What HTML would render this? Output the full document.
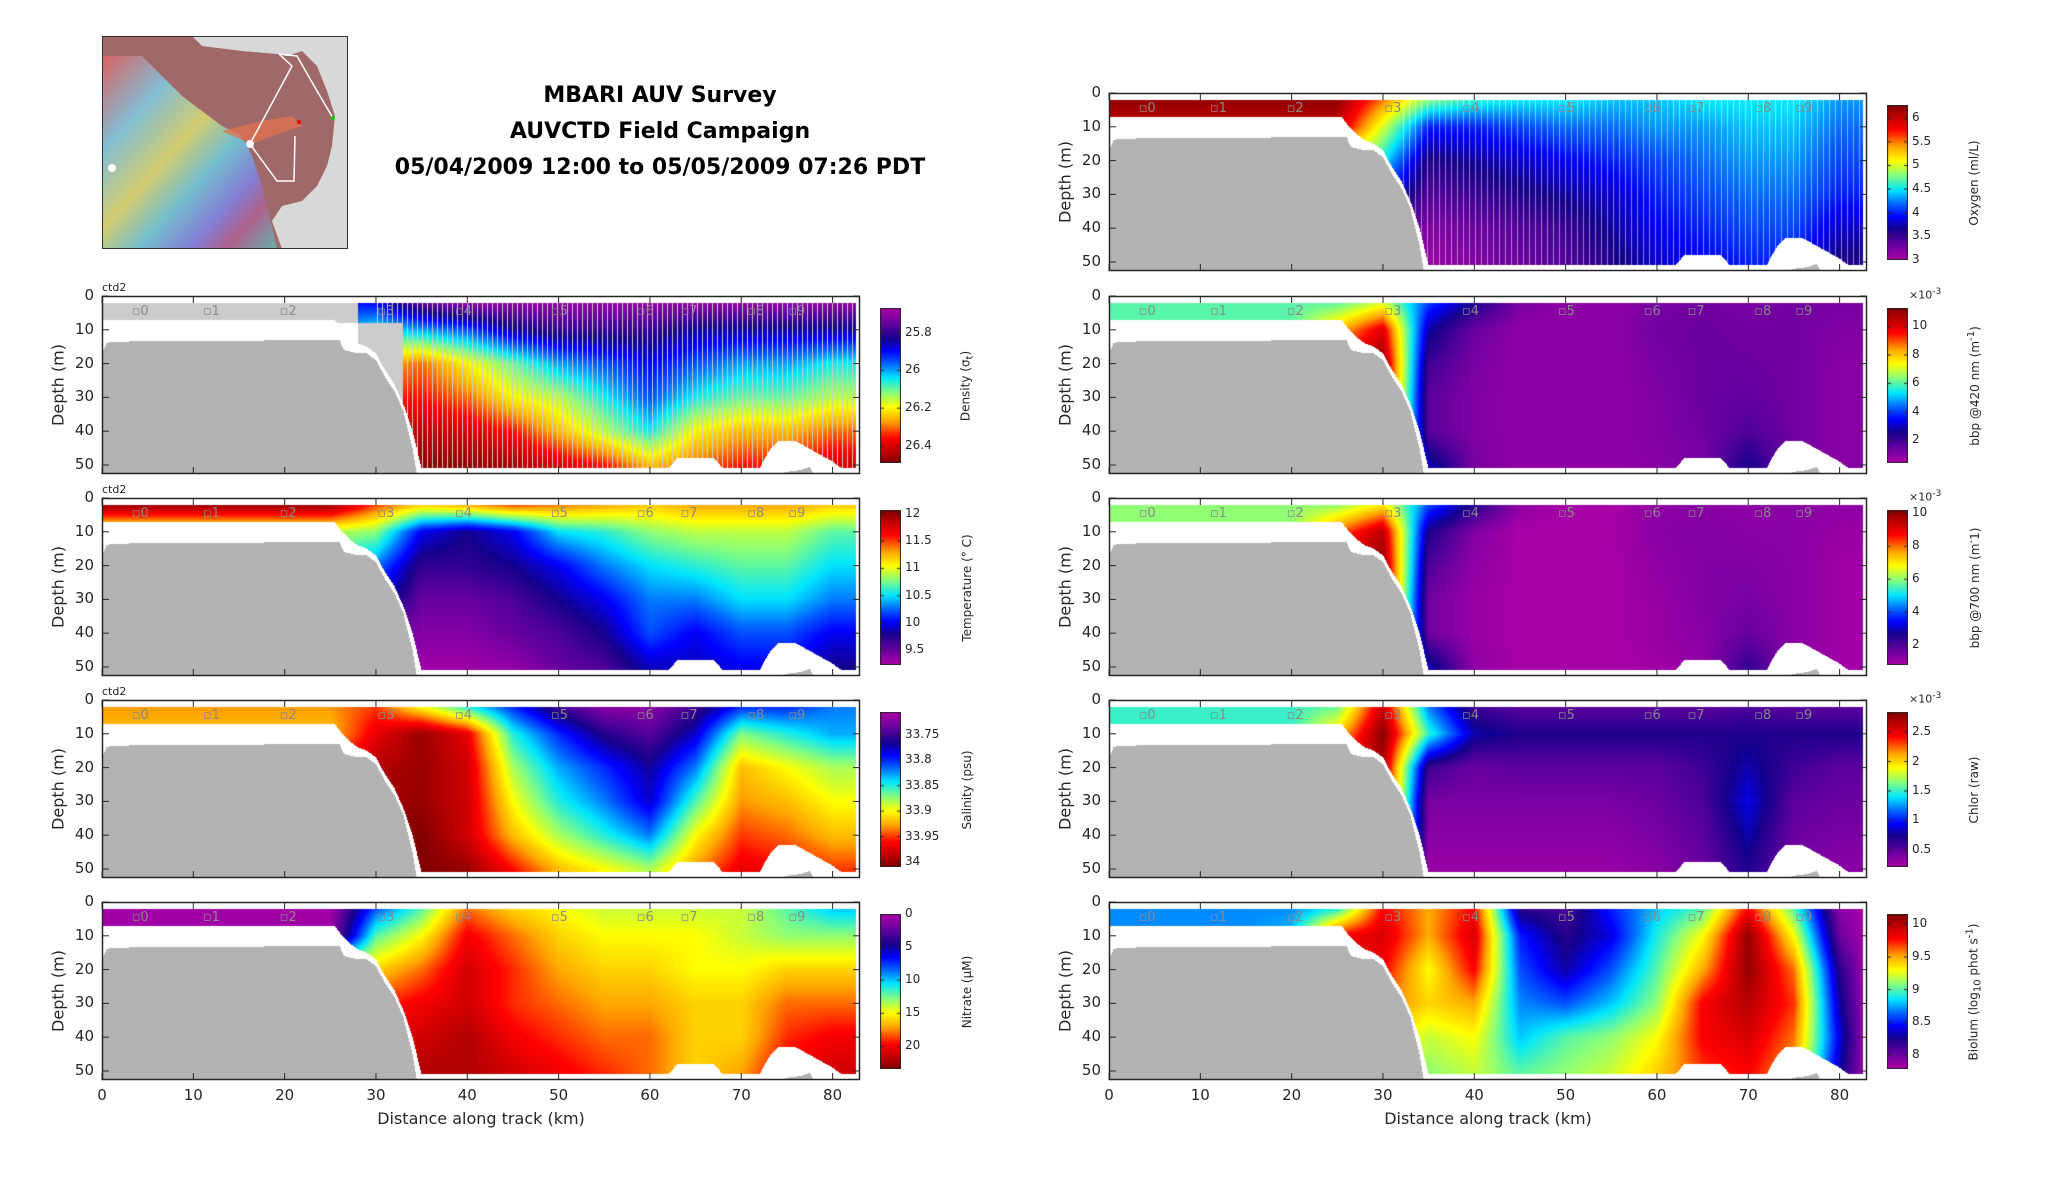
<!DOCTYPE html>
<html><head><meta charset="utf-8"><style>
html,body{margin:0;padding:0;background:#fff;}
#root{position:relative;width:2052px;height:1188px;overflow:hidden;font-family:"DejaVu Sans","Liberation Sans",sans-serif;color:#262626;}
.abs{position:absolute;}
canvas{position:absolute;display:block;}
.title{position:absolute;left:390px;width:540px;text-align:center;font-weight:bold;font-size:22px;color:#000;font-family:"DejaVu Sans","Liberation Sans",sans-serif;}
.tick{position:absolute;font-size:15px;color:#262626;white-space:nowrap;}
.cbt{position:absolute;font-size:12px;color:#262626;white-space:nowrap;}
.rot{position:absolute;transform:translate(-50%,-50%) rotate(-90deg);white-space:nowrap;}
.stn{position:absolute;font-size:13px;color:#8a8a8a;white-space:nowrap;}
</style></head><body>
<div id="root">
<svg class="abs" style="left:102px;top:36px" width="246" height="213">
 <defs>
  <linearGradient id="rb" x1="0" y1="0" x2="1" y2="1">
   <stop offset="0" stop-color="#e06060"/><stop offset="0.25" stop-color="#80c8e0"/>
   <stop offset="0.45" stop-color="#d8d870"/><stop offset="0.6" stop-color="#70c8d8"/>
   <stop offset="0.75" stop-color="#8080e0"/><stop offset="0.85" stop-color="#b06090"/>
   <stop offset="1" stop-color="#60b8b0"/></linearGradient>
 </defs>
 <rect width="246" height="213" fill="#d9d9d9"/>
 <path d="M0,0 L90,0 L100,10 L140,15 L175,18 L185,20 L200,15 L215,30 L225,55 L233,80 L230,110 L225,130 L215,150 L200,165 L180,170 L170,185 L180,213 L0,213 Z" fill="#a06868"/>
 <path d="M0,20 L40,20 L80,60 L120,90 L140,100 L150,120 L160,150 L170,190 L175,213 L0,213 Z" fill="url(#rb)" opacity="0.9"/>
 <path d="M120,95 L160,85 L190,80 L200,90 L170,100 L150,108 Z" fill="#e07050" opacity="0.8"/>
 <path d="M177,18 L195,20 L215,55 L231,82" stroke="#fff" stroke-width="1.5" fill="none"/>
 <path d="M177,18 L190,30 L148,108 L175,145 L192,145 L193,100" stroke="#fff" stroke-width="1.5" fill="none"/>
 <circle cx="148" cy="108" r="4" fill="#fff"/><circle cx="10" cy="132" r="4" fill="#fff"/>
 <circle cx="197" cy="86" r="2" fill="#e00000"/><circle cx="231" cy="82" r="2" fill="#00d000"/>
 <rect x="0.5" y="0.5" width="245" height="212" fill="none" stroke="#333" stroke-width="1"/>
</svg>
<div class="title" style="top:83px">MBARI AUV Survey</div>
<div class="title" style="top:119px">AUVCTD Field Campaign</div>
<div class="title" style="top:155px">05/04/2009 12:00 to 05/05/2009 07:26 PDT</div>
</div>
<script>
// ---- shared data ----
const distCols = [0,5,10,15,20,25,30,35,40,45,50,55,60,65,70,75,80,83];
const depthRows = [2,10,20,30,40,50];
const seafloorKm =    [0,0.5,1,26,26.5,28,29,30,31,32,33,34,34.5,74,75,76.5,77.5,78,83];
const seafloorDepth = [17,14,13.5,13,16,17,17,19,24,28,34,45,53,53,52,51.5,50.5,53,53];
const bottomKm =    [0,25.5,26,27,28,29,30,31,32,33,34,35,62,63,67,68,72,73,74,76,78,80,81,82.6];
const bottomDepth = [7,7,9,12,14,15,17,22,26,32,40,51,51,48,48,51,51,46,43,43,46,49,51,51];
const xTicks = [0,10,20,30,40,50,60,70,80];
const yTicks = [0,10,20,30,40,50];
const stationNames = ["0","1","2","3","4","5","6","7","8","9"];
const stationKm = [3.9,11.7,20.1,30.8,39.3,49.8,59.2,64,71.3,75.8];

// ---- panel grids (rows = depthRows, cols = distCols) ----
const densityGrid = [
 [25.9,25.9,25.9,25.9,25.9,25.9,25.9,25.75,25.7,25.7,25.7,25.7,25.7,25.7,25.7,25.7,25.7,25.7],
 [26,26,26,26,26,26,26.05,26,25.95,25.85,25.8,25.8,25.8,25.85,25.85,25.85,25.85,25.85],
 [26.2,26.2,26.2,26.2,26.2,26.2,26.25,26.3,26.2,26.1,26,25.95,25.9,25.95,26,26,26.05,26.05],
 [26.3,26.3,26.3,26.3,26.3,26.3,26.35,26.35,26.3,26.2,26.15,26.05,25.95,26.05,26.1,26.1,26.15,26.15],
 [26.4,26.4,26.4,26.4,26.4,26.4,26.42,26.42,26.4,26.35,26.25,26.15,26.05,26.2,26.25,26.25,26.3,26.3],
 [26.45,26.45,26.45,26.45,26.45,26.45,26.48,26.48,26.47,26.45,26.4,26.35,26.25,26.3,26.35,26.35,26.4,26.4]];
const tempGrid = [
 [12,12,12,12,12,12,11.5,11.2,11.3,11.5,11.4,11.3,11.2,11.3,11.3,11.3,11.2,11.2],
 [10.9,10.9,10.9,10.9,10.9,10.9,10.8,10,9.8,10,10.5,10.6,10.8,10.9,10.9,10.9,10.7,10.7],
 [10.5,10.5,10.5,10.5,10.5,10.5,10.3,9.7,9.7,9.8,10,10.3,10.5,10.6,10.7,10.7,10.5,10.5],
 [10.3,10.3,10.3,10.3,10.3,10.3,10,9.5,9.5,9.6,9.8,10,10.3,10.3,10.5,10.5,10.3,10.3],
 [10,10,10,10,10,10,9.6,9.4,9.4,9.5,9.6,9.8,10.2,10,10.2,10.2,10,10],
 [9.8,9.8,9.8,9.8,9.8,9.8,9.4,9.3,9.3,9.35,9.5,9.6,9.9,9.9,10,10,9.8,9.8]];
const salinityGrid = [
 [33.93,33.93,33.93,33.93,33.93,33.93,33.95,33.9,33.85,33.8,33.75,33.72,33.72,33.75,33.8,33.8,33.82,33.82],
 [33.92,33.92,33.92,33.92,33.92,33.92,33.97,34,33.97,33.85,33.8,33.76,33.74,33.78,33.87,33.85,33.83,33.83],
 [33.95,33.95,33.95,33.95,33.95,33.95,33.99,34,33.98,33.88,33.83,33.8,33.77,33.82,33.92,33.9,33.88,33.88],
 [33.97,33.97,33.97,33.97,33.97,33.97,34,34,33.98,33.9,33.85,33.82,33.78,33.86,33.93,33.92,33.9,33.9],
 [33.98,33.98,33.98,33.98,33.98,33.98,34.01,34.01,33.98,33.92,33.88,33.85,33.82,33.9,33.95,33.94,33.92,33.92],
 [34,34,34,34,34,34,34.01,34.01,34,33.96,33.92,33.9,33.88,33.93,33.97,33.96,33.95,33.95]];
const nitrateGrid = [
 [0.5,0.5,0.5,0.5,0.5,0.5,8,12,18,16,15,14,14,14,14,12,10,10],
 [0.5,0.5,0.5,0.5,0.5,0.5,12,15,20,18,16,15,15,15,14,13,13,13],
 [15,15,15,15,15,15,16,18,21,19,17,16,16,15,15,16,16,16],
 [18,18,18,18,18,18,19,20,21,19,18,17,17,16,16,18,18,18],
 [20,20,20,20,20,20,21,21,22,20,19,18,18,16,16,19,20,20],
 [21,21,21,21,21,21,22,22,22,21,20,19,18,16,17,20,21,21]];
const oxygenGrid = [
 [6.2,6.2,6.2,6.2,6.2,6.2,5.5,4.8,4.6,4.5,4.5,4.4,4.4,4.5,4.5,4.5,4.3,4.3],
 [6,6,6,6,6,6,5,4,4,4.1,4.2,4.2,4.3,4.3,4.4,4.4,4.2,4.2],
 [5,5,5,5,5,5,4.5,3.6,3.7,3.8,3.9,4,4.1,4.2,4.3,4.3,4.1,4.1],
 [4.5,4.5,4.5,4.5,4.5,4.5,4,3.4,3.5,3.6,3.7,3.8,4,4.1,4.2,4.2,4,4],
 [4,4,4,4,4,4,3.6,3.2,3.3,3.4,3.5,3.7,3.9,4,4.1,4.1,3.8,3.8],
 [3.8,3.8,3.8,3.8,3.8,3.8,3.4,3.1,3.2,3.3,3.4,3.6,3.8,3.9,4,4,3.6,3.6]];
const bbp420Grid = [
 [6,6,6,6,6,6,7,4,2.5,1.2,0.9,0.9,1.2,1.3,1.2,1.3,1.2,1.3],
 [6,6,6,6,6,8,10,2.8,1.4,0.9,0.9,0.9,1.3,1.4,1.3,1.3,1.1,1.1],
 [9,9,9,9,9,10,11,2,1.2,0.9,0.9,0.9,1.2,1.4,1.4,1.3,1.0,1.0],
 [9,9,9,9,9,10,11,1.6,1.1,0.9,0.9,0.9,1.1,1.4,1.5,1.3,1.0,1.0],
 [9,9,9,9,9,10,11,1.6,1.1,0.9,0.9,0.9,1.1,1.3,1.8,1.3,1.0,1.0],
 [9,9,9,9,9,10,11,3,1.2,0.9,0.9,0.9,1.0,1.2,2.5,1.3,1.0,1.0]];
const bbp700Grid = [
 [6,6,6,6,6,6,7,4,2.5,1.2,0.9,0.9,1.2,1.3,1.2,1.3,1.2,1.3],
 [6,6,6,6,6,8,9.5,2.6,1.4,0.9,0.9,0.9,1.3,1.4,1.3,1.3,1.1,1.1],
 [9,9,9,9,9,9.5,10,2,1.2,0.9,0.9,0.9,1.2,1.4,1.4,1.3,1.0,1.0],
 [9,9,9,9,9,9.5,10,1.6,1.1,0.9,0.9,0.9,1.1,1.4,1.5,1.3,1.0,1.0],
 [9,9,9,9,9,9.5,10,1.6,1.1,0.9,0.9,0.9,1.1,1.3,1.7,1.3,1.0,1.0],
 [9,9,9,9,9,9.5,10,3,1.2,0.9,0.9,0.9,1.0,1.2,2.3,1.3,1.0,1.0]];
const chlorGrid = [
 [1.5,1.5,1.5,1.5,1.5,1.6,2.6,1.2,0.6,0.5,0.5,0.5,0.5,0.5,0.55,0.5,0.5,0.5],
 [1.5,1.5,1.5,1.5,1.5,2,2.8,1.5,0.8,0.7,0.7,0.7,0.7,0.7,0.7,0.7,0.7,0.7],
 [2.5,2.5,2.5,2.5,2.5,2.6,2.7,0.6,0.45,0.5,0.5,0.5,0.5,0.6,0.8,0.6,0.5,0.5],
 [2.5,2.5,2.5,2.5,2.5,2.6,2.7,0.4,0.4,0.4,0.4,0.4,0.45,0.55,0.9,0.5,0.45,0.45],
 [2.5,2.5,2.5,2.5,2.5,2.6,2.7,0.35,0.35,0.35,0.35,0.35,0.4,0.5,0.8,0.45,0.4,0.4],
 [2.5,2.5,2.5,2.5,2.5,2.6,2.7,0.3,0.3,0.3,0.3,0.3,0.35,0.45,0.7,0.4,0.35,0.35]];
const biolumGrid = [
 [8.7,8.7,8.7,8.7,8.7,8.9,9.8,9.5,9.8,8.2,8.1,8.5,8.8,9,9.8,9,7.9,7.8],
 [8.7,8.7,8.7,8.7,8.8,9.8,9.9,9.5,9.9,8.5,8.2,8.4,8.9,9.3,10.1,9.3,8.0,7.8],
 [9,9,9,9,9,9.8,9.8,9.3,9.8,8.6,8.3,8.6,9,9.5,10.1,9.6,8.2,7.8],
 [9,9,9,9,9,9.6,9.6,9.4,9.5,8.7,8.6,8.8,9.1,9.8,10,9.7,8.3,7.8],
 [9,9,9,9,9,9.4,9.4,9.2,9.3,8.8,9,9.1,9.3,9.8,9.9,9.6,8.4,7.8],
 [9,9,9,9,9,9.3,9.3,9.1,9.2,9,9.1,9.2,9.4,9.7,9.8,9.5,8.3,7.8]];

const densityTicks=[25.8,26,26.2,26.4], tempTicks=[9.5,10,10.5,11,11.5,12],
 salinityTicks=[33.75,33.8,33.85,33.9,33.95,34], nitrateTicks=[0,5,10,15,20],
 oxygenTicks=[3,3.5,4,4.5,5,5.5,6], bbp420Ticks=[2,4,6,8,10], bbp700Ticks=[2,4,6,8,10],
 chlorTicks=[0.5,1,1.5,2,2.5], biolumTicks=[8,8.5,9,9.5,10];

const panels = [
 {id:'density',x:102,y:296,grid:densityGrid,min:25.67,max:26.49,rev:true,ticks:densityTicks,label:'Density (σ<sub>t</sub>)',ctd:true,stripes:1,lightShallow:true},
 {id:'temperature',x:102,y:498,grid:tempGrid,min:9.23,max:12.07,rev:false,ticks:tempTicks,label:'Temperature (° C)',ctd:true},
 {id:'salinity',x:102,y:700,grid:salinityGrid,min:33.705,max:34.01,rev:true,ticks:salinityTicks,label:'Salinity (psu)',ctd:true},
 {id:'nitrate',x:102,y:902,grid:nitrateGrid,min:0,max:23.4,rev:true,ticks:nitrateTicks,label:'Nitrate (μM)',xlab:true},
 {id:'oxygen',x:1109,y:93,grid:oxygenGrid,min:3.0,max:6.28,rev:false,ticks:oxygenTicks,label:'Oxygen (ml/L)',stripes:2},
 {id:'bbp420',x:1109,y:296,grid:bbp420Grid,min:0.4,max:11.3,rev:false,ticks:bbp420Ticks,label:'bbp @420 nm (m<sup>-1</sup>)',e3:true},
 {id:'bbp700',x:1109,y:498,grid:bbp700Grid,min:0.8,max:10.2,rev:false,ticks:bbp700Ticks,label:'bbp @700 nm (m<sup>-</sup>1)',e3:true},
 {id:'chlor',x:1109,y:700,grid:chlorGrid,min:0.21,max:2.84,rev:false,ticks:chlorTicks,label:'Chlor (raw)',e3:true},
 {id:'biolum',x:1109,y:902,grid:biolumGrid,min:7.78,max:10.16,rev:false,ticks:biolumTicks,label:'Biolum (log<sub>10</sub> phot s<sup>-1</sup>)',xlab:true}
];

const W=758,H=178,KM=83;
const root=document.getElementById('root');
const xs=km=>km/KM*W, ys=d=>d*3.38;
const stops=[[0,[176,0,168]],[0.1,[100,0,158]],[0.2,[20,0,140]],[0.28,[0,0,255]],[0.36,[0,100,255]],[0.45,[0,230,255]],[0.55,[140,255,120]],[0.64,[255,255,0]],[0.73,[255,165,0]],[0.84,[255,0,0]],[1,[128,0,0]]];
function cmap(t){t=Math.max(0,Math.min(1,t));for(let i=1;i<stops.length;i++){if(t<=stops[i][0]){const a=stops[i-1],b=stops[i],f=(t-a[0])/(b[0]-a[0]);return [0,1,2].map(k=>Math.round(a[1][k]+(b[1][k]-a[1][k])*f));}}return stops[stops.length-1][1];}
function interp1(xa,ya,x){if(x<=xa[0])return ya[0];for(let i=1;i<xa.length;i++){if(x<=xa[i]){const f=(x-xa[i-1])/(xa[i]-xa[i-1]);return ya[i-1]+(ya[i]-ya[i-1])*f;}}return ya[ya.length-1];}
function locate(arr,v){if(v<=arr[0])return [0,0];for(let i=1;i<arr.length;i++){if(v<=arr[i])return [i-1,(v-arr[i-1])/(arr[i]-arr[i-1])];}return [arr.length-2,1];}
function gridVal(g,km,d){const [ci,cf]=locate(distCols,km),[ri,rf]=locate(depthRows,d);
 const a=g[ri][ci],b=g[ri][ci+1],c=g[ri+1][ci],e=g[ri+1][ci+1];return (a*(1-cf)+b*cf)*(1-rf)+(c*(1-cf)+e*cf)*rf;}
function mk(tag,cls,name,css,html){const e=document.createElement(tag);if(cls)e.className=cls;
 
 
 if(css)e.style.cssText=css;if(html!==undefined)e.innerHTML=html;root.appendChild(e);return e;}

panels.forEach(p=>{
 const cv=mk('canvas','',p.id+'-heatmap','left:'+p.x+'px;top:'+p.y+'px;');
 cv.width=W;cv.height=H;const ctx=cv.getContext('2d');const im=ctx.createImageData(W,H);
 for(let px=0;px<W;px++){const km=(px+0.5)/W*KM;const sf=interp1(seafloorKm,seafloorDepth,km);
  const db=Math.min(interp1(bottomKm,bottomDepth,km),sf-1);
  for(let py=0;py<H;py++){const d=(py+0.5)/3.38;let c=[255,255,255];
   if(d>=sf)c=[179,179,179];
   else if(d>=2&&d<=db&&km<=82.6){
     if(p.lightShallow&&(km<28||(km<33&&d>8)))c=(d<=8||km>=28)?[204,204,204]:[255,255,255];
     else{c=cmap((gridVal(p.grid,km,d)-p.min)/(p.max-p.min));
      if(p.stripes===1&&km>30&&px%5===0)c=[205,205,205];
      if(p.stripes===2&&km>32&&px%6===0)c=c.map(v=>Math.round(v*0.5+127));}
   }
   const o=(py*W+px)*4;im.data[o]=c[0];im.data[o+1]=c[1];im.data[o+2]=c[2];im.data[o+3]=255;}}
 ctx.putImageData(im,0,0);
 let s='<svg width="'+W+'" height="'+H+'" style="position:absolute;left:0;top:0;overflow:visible">';
 s+='<rect x="0.5" y="0.5" width="'+(W-1)+'" height="'+(H-1)+'" fill="none" stroke="#262626" stroke-width="1.5"/>';
 xTicks.forEach(t=>{const x=xs(t);s+='<line x1="'+x+'" y1="'+H+'" x2="'+x+'" y2="'+(H-7)+'" stroke="#262626"/><line x1="'+x+'" y1="0" x2="'+x+'" y2="7" stroke="#262626"/>';});
 yTicks.forEach(t=>{const y=ys(t);s+='<line x1="0" y1="'+y+'" x2="7" y2="'+y+'" stroke="#262626"/><line x1="'+W+'" y1="'+y+'" x2="'+(W-7)+'" y2="'+y+'" stroke="#262626"/>';});
 s+='</svg>';
 mk('div','abs',p.id+'-axes','left:'+p.x+'px;top:'+p.y+'px;width:'+W+'px;height:'+H+'px;',s);
 yTicks.forEach(t=>{mk('div','tick',p.id+'-y-tick','left:'+(p.x-40)+'px;top:'+(p.y+ys(t)-10)+'px;width:32px;text-align:right;',String(t));});
 mk('div','rot',p.id+'-y-axis-title','left:'+(p.x-44)+'px;top:'+(p.y+H/2)+'px;font-size:16px;','Depth (m)');
 if(p.ctd)mk('div','abs',p.id+'-ctd-label','left:'+p.x+'px;top:'+(p.y-15)+'px;font-size:11px;','ctd2');
 stationNames.forEach((n,i)=>{mk('div','stn',p.id+'-station-'+n,'left:'+(p.x+xs(stationKm[i])-6)+'px;top:'+(p.y+8)+'px;','▫'+n);});
 if(p.xlab){xTicks.forEach(t=>{mk('div','tick',p.id+'-x-tick','left:'+(p.x+xs(t)-20)+'px;top:'+(p.y+H+6)+'px;width:40px;text-align:center;',String(t));});
  mk('div','abs',p.id+'-x-axis-title','left:'+p.x+'px;top:'+(p.y+H+29)+'px;width:'+W+'px;text-align:center;font-size:16px;','Distance along track (km)');}
 const cx=p.x+W+20,cy=p.y+12,ch=155,cw=21;
 const cb=mk('canvas','',p.id+'-colorbar','left:'+cx+'px;top:'+cy+'px;');cb.width=cw;cb.height=ch;
 const c2=cb.getContext('2d');for(let y=0;y<ch;y++){let t=1-(y+0.5)/ch;if(p.rev)t=1-t;const c=cmap(t);c2.fillStyle='rgb('+c+')';c2.fillRect(0,y,cw,1);}
 c2.strokeStyle='#262626';c2.strokeRect(0.5,0.5,cw-1,ch-1);
 p.ticks.forEach(v=>{let t=(v-p.min)/(p.max-p.min);const y=p.rev?t*ch:(1-t)*ch;
  c2.beginPath();c2.moveTo(0,y);c2.lineTo(4,y);c2.moveTo(cw,y);c2.lineTo(cw-4,y);c2.stroke();
  mk('div','cbt',p.id+'-colorbar-tick','left:'+(cx+cw+4)+'px;top:'+(cy+y-8)+'px;',String(v));});
 mk('div','rot',p.id+'-colorbar-title','left:'+(cx+cw+66)+'px;top:'+(cy+ch/2)+'px;font-size:12px;',p.label);
 if(p.e3)mk('div','cbt',p.id+'-colorbar-exponent','left:'+(cx+22)+'px;top:'+(cy-22)+'px;font-size:11px;','×10<sup>-3</sup>');
});
</script>
</body></html>
